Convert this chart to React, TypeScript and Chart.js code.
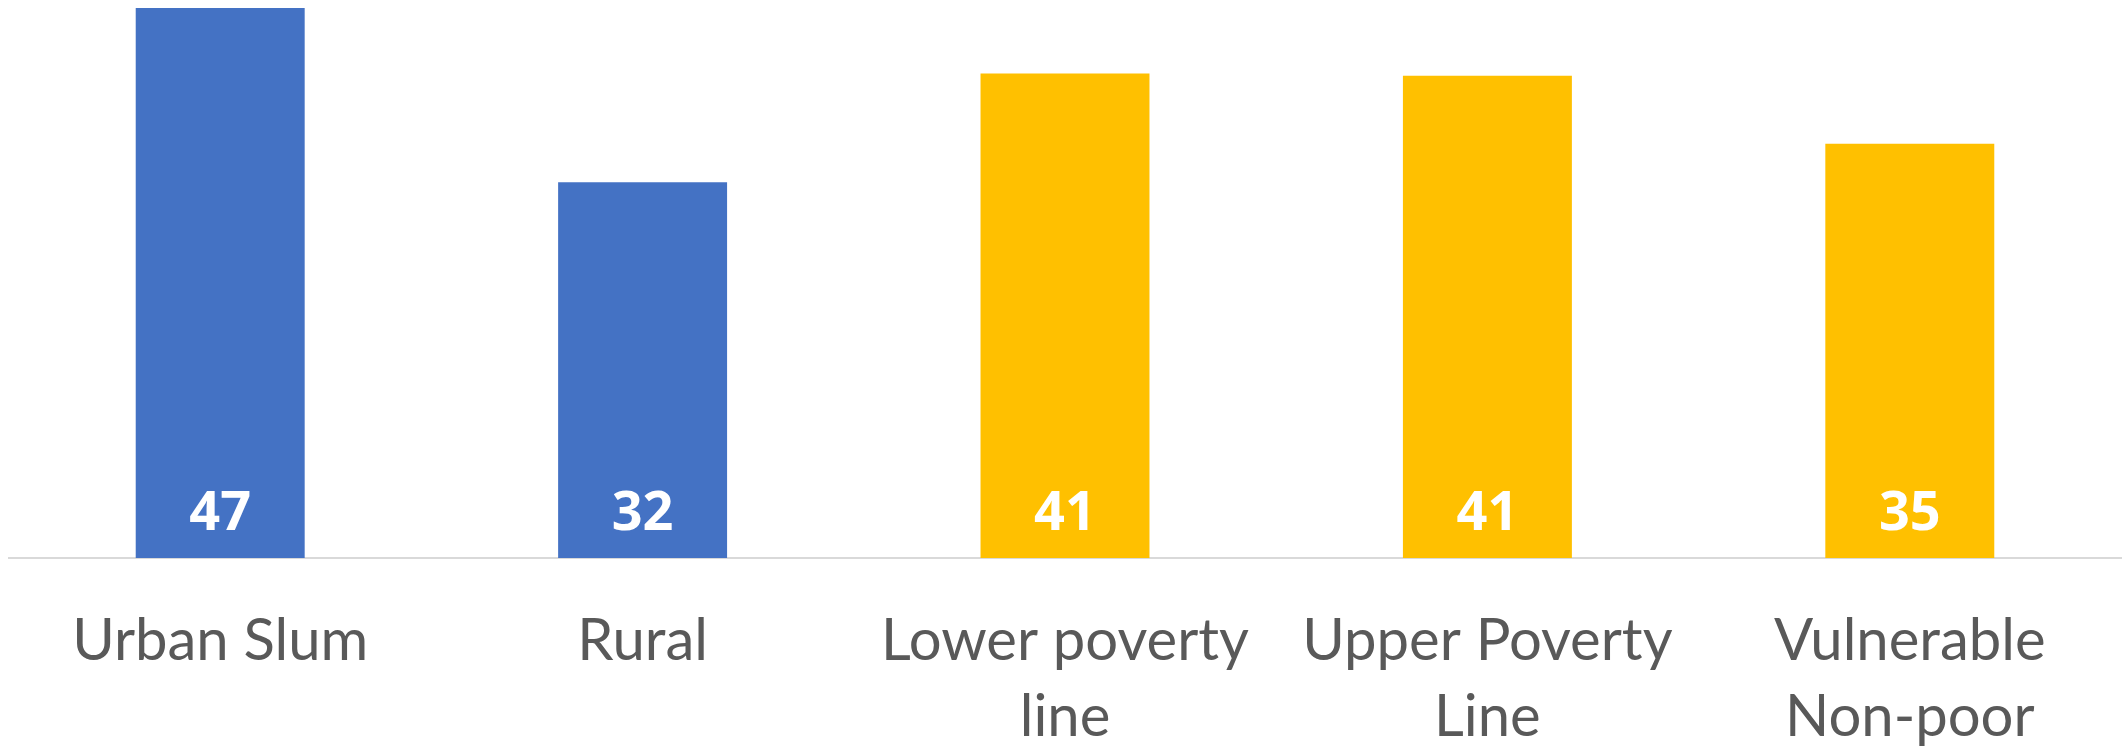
import React, { useEffect, useRef } from "react";
import { Chart, registerables } from "chart.js";

Chart.register(...registerables);

const categories: (string | string[])[] = [
  "Urban Slum",
  "Rural",
  ["Lower poverty", "line"],
  ["Upper Poverty", "Line"],
  ["Vulnerable", "Non-poor"],
];
const values = [47.0, 32.1, 41.4, 41.2, 35.4];
const barColors = ["#4472C4", "#4472C4", "#FFC000", "#FFC000", "#FFC000"];

const valueLabelPlugin = {
  id: "valueLabels",
  afterDatasetsDraw(chart: any) {
    const ctx = chart.ctx;
    const meta = chart.getDatasetMeta(0);
    ctx.save();
    ctx.fillStyle = "#FFFFFF";
    ctx.font = "bold 54px 'Open Sans'";
    ctx.textAlign = "center";
    ctx.textBaseline = "alphabetic";
    meta.data.forEach((bar: any, i: number) => {
      const v = chart.data.datasets[0].data[i] as number;
      ctx.fillText(String(Math.round(v)), bar.x, bar.base - 28);
    });
    ctx.restore();
  },
};

export default function App() {
  const ref = useRef<HTMLCanvasElement | null>(null);
  useEffect(() => {
    document.body.style.margin = "0";
    if (!ref.current) return;
    const chart = new Chart(ref.current, {
      type: "bar",
      data: {
        labels: categories,
        datasets: [
          {
            data: values,
            backgroundColor: barColors,
            borderWidth: 0,
            barPercentage: 0.4,
            categoryPercentage: 1.0,
          },
        ],
      },
      options: {
        responsive: false,
        animation: false,
        layout: { padding: { left: 9, right: 1, top: 0, bottom: 0 } },
        plugins: {
          legend: { display: false },
          tooltip: { enabled: false },
        },
        scales: {
          x: {
            grid: { display: false, drawTicks: false },
            border: { display: true, color: "#D9D9D9", width: 2 },
            ticks: {
              color: "#595959",
              font: { family: "Lato", size: 58, lineHeight: 1.3 },
              padding: 46,
              maxRotation: 0,
              autoSkip: false,
            },
            afterFit: (scale: any) => {
              scale.height = 191;
            },
          },
          y: {
            display: false,
            min: 0,
            max: 47.68,
          },
        },
      },
      plugins: [valueLabelPlugin],
    });
    return () => chart.destroy();
  }, []);
  return (
    <div style={{ position: "absolute", left: 0, top: 0, width: 2122, height: 749, background: "#fff" }}>
      <canvas ref={ref} width={2122} height={749} />
    </div>
  );
}
